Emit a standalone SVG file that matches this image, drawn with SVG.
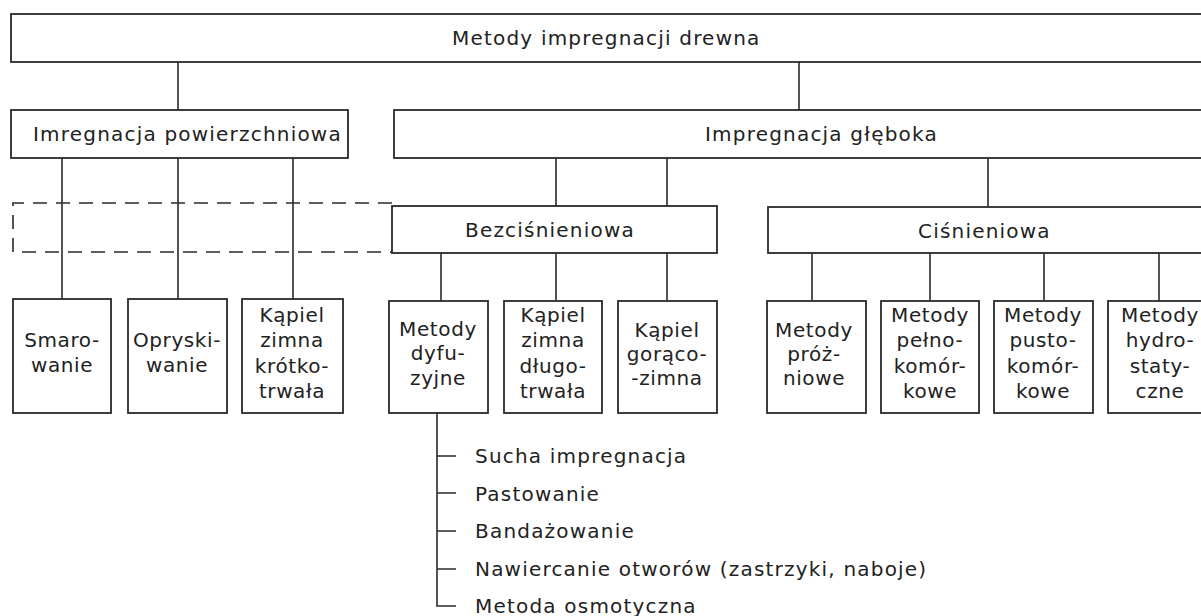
<svg xmlns="http://www.w3.org/2000/svg" width="1201" height="616" viewBox="0 0 1201 616">
<style>
.bx{fill:#ffffff;stroke:#2a2a2a;stroke-width:1.8}
.ln{fill:none;stroke:#2a2a2a;stroke-width:1.6}
.ds{fill:none;stroke:#2a2a2a;stroke-width:1.6;stroke-dasharray:14 9}
.t{font-family:"DejaVu Sans","Liberation Sans",sans-serif;font-size:20px;fill:#222;letter-spacing:1.2px}
.c{text-anchor:middle}
.b{font-family:"DejaVu Sans","Liberation Sans",sans-serif;font-size:20px;fill:#222;letter-spacing:0.6px;text-anchor:middle}
</style>
<rect width="1201" height="616" fill="#ffffff"/>
<g id="connectors">
<path class="ln" d="M178,62V110M799,62V110"/>
<path class="ln" d="M62,158V299M178,158V299M293,158V299"/>
<path class="ln" d="M556,158V206M667,158V206M988,158V207"/>
<path class="ln" d="M441,253V301M556,253V301M667,253V301"/>
<path class="ln" d="M812,253V301M930,253V301M1044,253V301M1159,253V301"/>
<path class="ln" d="M437,413V606H456M437,456H456M437,493H456M437,531H456M437,569H456"/>
<path class="ds" d="M392,203H13V252H392"/>
</g>
<g id="root"><rect class="bx" x="11" y="14" width="1200" height="48"/><text class="t" x="452" y="45">Metody impregnacji drewna</text></g>
<g id="powierzchniowa"><rect class="bx" x="11" y="110" width="337" height="48"/><text class="t" x="33" y="141">Imregnacja powierzchniowa</text></g>
<g id="gleboka"><rect class="bx" x="394" y="110" width="817" height="48"/><text class="t" x="705" y="141">Impregnacja głęboka</text></g>
<g id="bezcisnieniowa"><rect class="bx" x="392" y="206" width="325" height="47"/><text class="t" x="465" y="237">Bezciśnieniowa</text></g>
<g id="cisnieniowa"><rect class="bx" x="768" y="207" width="443" height="46"/><text class="t" x="918" y="238">Ciśnieniowa</text></g>
<g id="smarowanie"><rect class="bx" x="13" y="299" width="98" height="114"/><text class="b" x="62" y="347">Smaro-</text><text class="b" x="62" y="372">wanie</text></g>
<g id="opryskiwanie"><rect class="bx" x="128" y="299" width="99" height="114"/><text class="b" x="177" y="347">Opryski-</text><text class="b" x="177" y="372">wanie</text></g>
<g id="kapiel-krotkotrwala"><rect class="bx" x="242" y="299" width="101" height="114"/><text class="b" x="292" y="322">Kąpiel</text><text class="b" x="292" y="347">zimna</text><text class="b" x="292" y="373">krótko-</text><text class="b" x="292" y="398">trwała</text></g>
<g id="dyfuzyjne"><rect class="bx" x="389" y="301" width="99" height="112"/><text class="b" x="438" y="336">Metody</text><text class="b" x="438" y="360">dyfu-</text><text class="b" x="438" y="385">zyjne</text></g>
<g id="kapiel-dlugotrwala"><rect class="bx" x="504" y="301" width="98" height="112"/><text class="b" x="553" y="322">Kąpiel</text><text class="b" x="553" y="347">zimna</text><text class="b" x="553" y="373">długo-</text><text class="b" x="553" y="398">trwała</text></g>
<g id="kapiel-goraco"><rect class="bx" x="618" y="301" width="99" height="112"/><text class="b" x="667" y="337">Kąpiel</text><text class="b" x="667" y="361">gorąco-</text><text class="b" x="667" y="385">-zimna</text></g>
<g id="prozniowe"><rect class="bx" x="767" y="301" width="99" height="112"/><text class="b" x="814" y="337">Metody</text><text class="b" x="814" y="361">próż-</text><text class="b" x="814" y="385">niowe</text></g>
<g id="pelnokomorkowe"><rect class="bx" x="881" y="301" width="98" height="112"/><text class="b" x="930" y="322">Metody</text><text class="b" x="930" y="347">pełno-</text><text class="b" x="930" y="373">komór-</text><text class="b" x="930" y="398">kowe</text></g>
<g id="pustokomorkowe"><rect class="bx" x="994" y="301" width="99" height="112"/><text class="b" x="1043" y="322">Metody</text><text class="b" x="1043" y="347">pusto-</text><text class="b" x="1043" y="373">komór-</text><text class="b" x="1043" y="398">kowe</text></g>
<g id="hydrostatyczne"><rect class="bx" x="1108" y="301" width="103" height="112"/><text class="b" x="1160" y="322">Metody</text><text class="b" x="1160" y="347">hydro-</text><text class="b" x="1160" y="373">staty-</text><text class="b" x="1160" y="398">czne</text></g>
<g id="dyfuzyjne-lista">
<text class="t" x="475" y="463">Sucha impregnacja</text>
<text class="t" x="475" y="501">Pastowanie</text>
<text class="t" x="475" y="538">Bandażowanie</text>
<text class="t" x="475" y="576">Nawiercanie otworów (zastrzyki, naboje)</text>
<text class="t" x="475" y="613">Metoda osmotyczna</text>
</g>
</svg>
